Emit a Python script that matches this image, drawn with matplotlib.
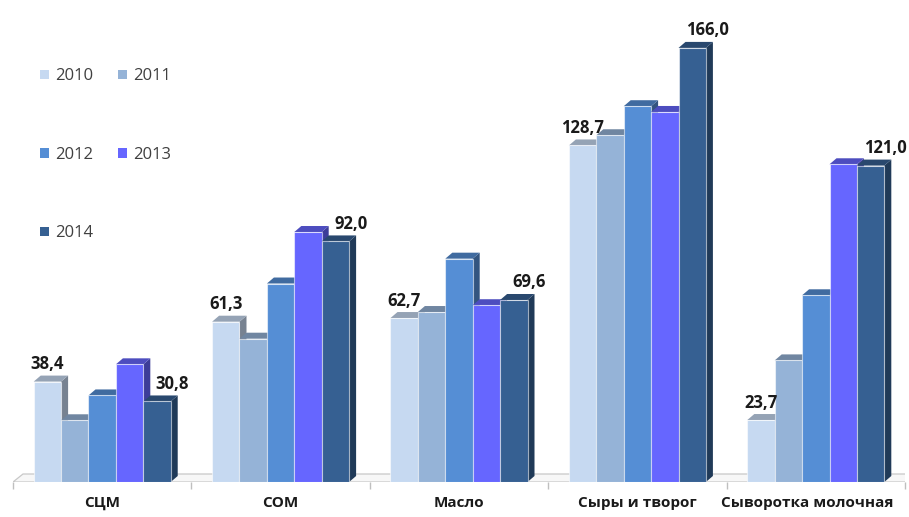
import numpy as np
import matplotlib.pyplot as plt
from matplotlib.patches import Polygon, Patch
from matplotlib.colors import to_rgb
from matplotlib.transforms import ScaledTranslation

plt.rcParams['font.family'] = ['Open Sans', 'DejaVu Sans']

# production by product group, 2010-2014
categories = ["СЦМ", "СОМ", "Масло", "Сыры и творог", "Сыворотка молочная"]
years = ["2010", "2011", "2012", "2013", "2014"]
v2010 = [38.4, 61.3, 62.7, 128.7, 23.7]
v2011 = [23.6, 54.8, 65.0, 132.6, 46.5]
v2012 = [33.1, 75.9, 85.4, 143.7, 71.4]
v2013 = [45.0, 95.6, 67.6, 141.5, 121.5]
v2014 = [30.8, 92.0, 69.6, 166.0, 121.0]
series = [v2010, v2011, v2012, v2013, v2014]
labelled_years = ["2010", "2014"]

colors = ["#C6D9F1", "#95B3D7", "#558ED5", "#6666FF", "#366092"]


def shade(c, k):
    r, g, b = to_rgb(c)
    return (r * k, g * k, b * k)


W, H = 909, 517
fig = plt.figure(figsize=(W / 100, H / 100), dpi=100)
base_px = 482
ax = fig.add_axes([13 / W, (H - base_px) / H, 892 / W, (base_px - 8) / H])
ax.set_xlim(-0.5, len(categories) - 0.5)
ax.set_ylim(0, (base_px - 8) / 2.615)
for s in ax.spines.values():
    s.set_visible(False)
ax.set_yticks([])

# pixel -> data conversion for the 3D depth offsets
px_x = (len(categories)) / 892
px_y = ax.get_ylim()[1] / (base_px - 8)
dx, dy = 7 * px_x, 6 * px_y

# floor slab
x0, x1 = -0.5, len(categories) - 0.5
fdx, fdy = 10 * px_x, 8 * px_y
ax.add_patch(Polygon([(x0, 0), (x1, 0), (x1 + fdx, fdy), (x0 + fdx, fdy)],
                     closed=True, facecolor="#F7F7F7", edgecolor="#C8C8C8",
                     lw=0.9, zorder=1))

x = np.arange(len(categories))
bw = 0.1536
z = 2
for i, (vals, col) in enumerate(zip(series, colors)):
    xs = x + (i - 2) * bw
    for xc, v in zip(xs, vals):
        l, r = xc - bw / 2, xc + bw / 2
        ax.add_patch(Polygon([(r, 0), (r + dx, dy), (r + dx, v + dy), (r, v)],
                             closed=True, facecolor=shade(col, 0.6),
                             edgecolor="none", zorder=z))
        ax.add_patch(Polygon([(l, v), (r, v), (r + dx, v + dy), (l + dx, v + dy)],
                             closed=True, facecolor=shade(col, 0.75),
                             edgecolor="none", zorder=z))
    ax.bar(xs, vals, width=bw, color=col, edgecolor=(1, 1, 1, 0.55),
           linewidth=0.8, zorder=z + 1)
    if years[i] in labelled_years:
        off = 0 if years[i] == "2010" else 11
        for xc, v in zip(xs, vals):
            ax.annotate(f"{v:.1f}".replace(".", ","), (xc, v),
                        xytext=(off, 9), textcoords="offset points",
                        ha="center", va="baseline", fontsize=12,
                        fontweight="bold", color="#1A1A1A", zorder=20)
    z += 2

ax.set_xticks(x)
ax.set_xticklabels(categories, fontsize=11, fontweight="bold", color="#1A1A1A")
ax.tick_params(axis="x", which="major", length=0, pad=10)
# nudge the long last label left so it stays inside the figure
last = ax.get_xticklabels()[-1]
last.set_transform(last.get_transform() + ScaledTranslation(-0.09, 0, fig.dpi_scale_trans))
ax.set_xticks(np.arange(len(categories) + 1) - 0.5, minor=True)
ax.tick_params(axis="x", which="minor", length=5, color="#BFBFBF", width=1)

handles = [Patch(facecolor=c, edgecolor="none") for c in colors]
order = [0, 2, 4, 1, 3]
ax.legend([handles[k] for k in order], [years[k] for k in order],
          ncol=2, loc="upper left", bbox_to_anchor=(32 / W, 1 - 60 / H),
          bbox_transform=fig.transFigure, frameon=False, fontsize=12,
          handlelength=0.5, handleheight=0.5, handletextpad=0.4,
          labelspacing=3.75, columnspacing=1.5, borderpad=0,
          labelcolor="#404040")

fig.savefig("out.png", dpi=100)
